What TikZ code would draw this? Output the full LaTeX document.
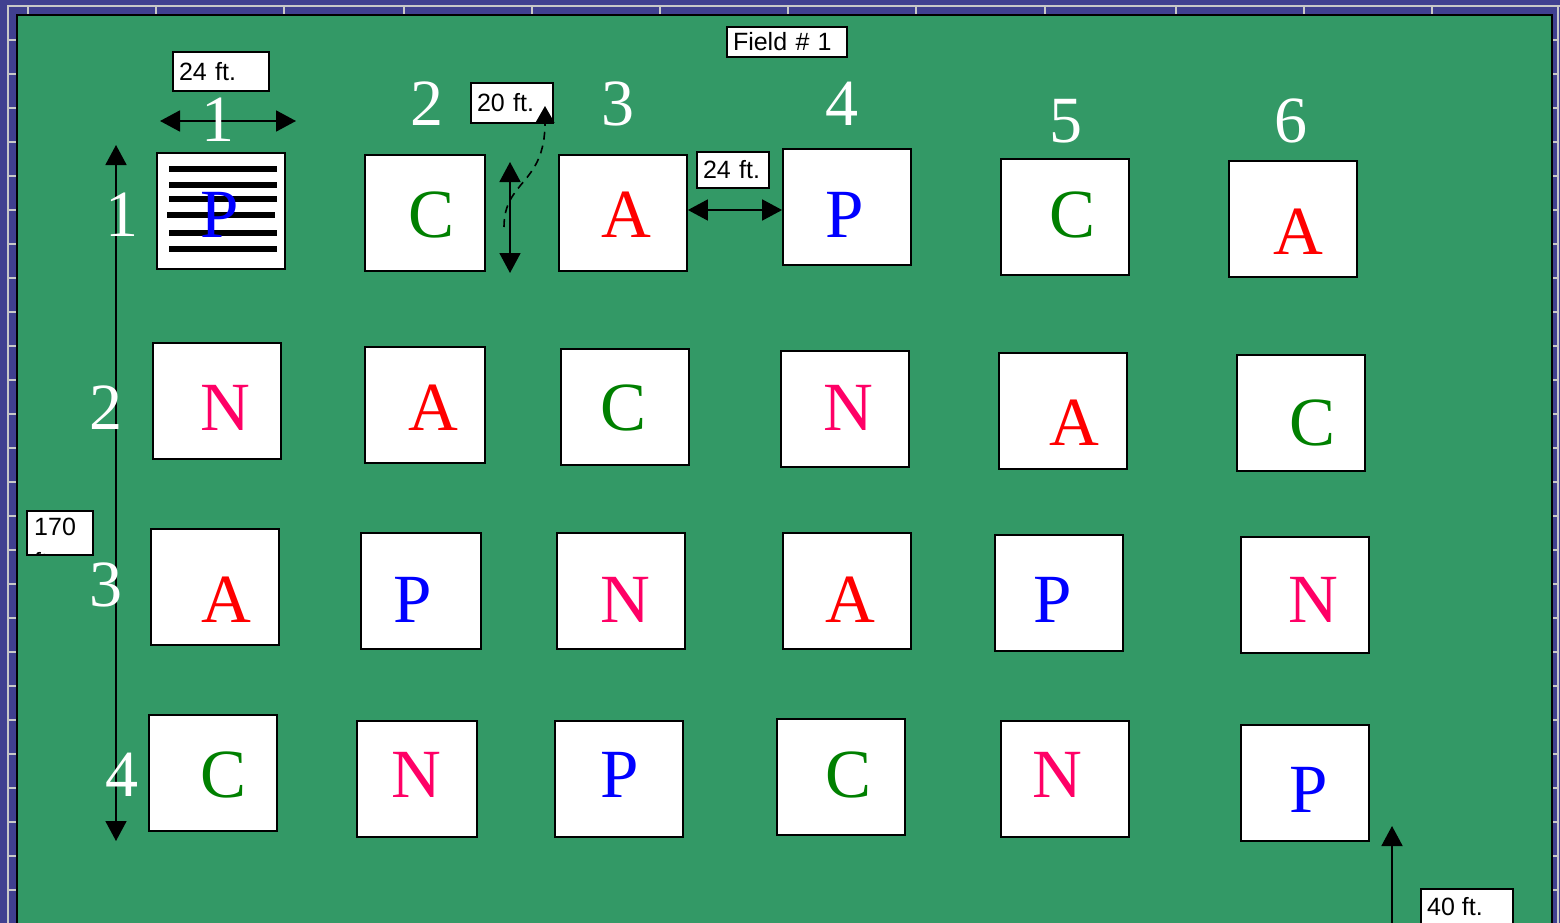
\documentclass[tikz,border=0pt]{standalone}
\usepackage{fontspec}
\setmainfont{Liberation Serif}
\newfontfamily\lsans{Liberation Sans}
\usetikzlibrary{arrows.meta}
\definecolor{bgblue}{RGB}{64,64,144}
\definecolor{fieldgreen}{RGB}{51,153,102}
\definecolor{tickgray}{RGB}{200,200,200}
\definecolor{nred}{RGB}{255,0,102}
\definecolor{cgreen}{RGB}{0,128,0}
\definecolor{pblue}{RGB}{0,0,255}
\definecolor{ared}{RGB}{255,0,0}
\newcommand\plotbox[5]{%
  \node[plotbox, minimum width={(#4-#2)*1pt}, minimum height={(#5-#3)*1pt}]
    (#1) at ({(#2+#4)/2},{(#3+#5)/2}) {};}
\newcommand\lblbox[6]{%
  \node[lblbox, minimum width={(#4-#2)*1pt}, minimum height={(#5-#3)*1pt},
    text width={(#4-#2-12)*1pt}]
    (#1) at ({(#2+#4)/2},{(#3+#5)/2}) {#6};}
\begin{document}
\begin{tikzpicture}[x=1pt,y=-1pt,
  plotbox/.style={draw=black, fill=white, line width=1.8pt, inner sep=0pt},
  letter/.style={inner sep=0pt, font=\fontsize{69}{69}\selectfont},
  num/.style={inner sep=0pt, text=white, font=\fontsize{66}{66}\selectfont},
  lblbox/.style={draw=black, fill=white, line width=1.3pt, inner xsep=6pt, inner ysep=0pt,
    align=left, font=\lsans\fontsize{25}{28}\selectfont},
  dim/.style={line width=1.8pt, {Triangle[length=20pt,width=21pt]}-{Triangle[length=20pt,width=21pt]}},
  dimone/.style={line width=1.8pt, -{Triangle[length=20pt,width=21pt]}},
  tickline/.style={draw=tickgray, line width=2pt}
]
\useasboundingbox (0,0) rectangle (1560,923);
% background frame
\fill[bgblue] (0,0) rectangle (1560,923);
\draw[tickline] (8,930) -- (8,6) -- (1560,6);
\draw[tickline] (1558,6) -- (1558,930);
\foreach \x in {28,156,284,404,532,660,788,916,1045,1176,1304,1432}
  \draw[tickline] (\x,6) -- (\x,14);
\foreach \k in {0,...,26}{
  \draw[tickline] (8,{40+34*\k}) -- (16,{40+34*\k});
  \draw[tickline] (1552,{40+34*\k}) -- (1558,{40+34*\k});
}
% field
\filldraw[fill=fieldgreen, draw=black, line width=2pt] (17,15) rectangle (1552,935);

% plots
\plotbox{b11}{157}{153}{285}{269}
\plotbox{b12}{365}{155}{485}{271}
\plotbox{b13}{559}{155}{687}{271}
\plotbox{b14}{783}{149}{911}{265}
\plotbox{b15}{1001}{159}{1129}{275}
\plotbox{b16}{1229}{161}{1357}{277}
\plotbox{b21}{153}{343}{281}{459}
\plotbox{b22}{365}{347}{485}{463}
\plotbox{b23}{561}{349}{689}{465}
\plotbox{b24}{781}{351}{909}{467}
\plotbox{b25}{999}{353}{1127}{469}
\plotbox{b26}{1237}{355}{1365}{471}
\plotbox{b31}{151}{529}{279}{645}
\plotbox{b32}{361}{533}{481}{649}
\plotbox{b33}{557}{533}{685}{649}
\plotbox{b34}{783}{533}{911}{649}
\plotbox{b35}{995}{535}{1123}{651}
\plotbox{b36}{1241}{537}{1369}{653}
\plotbox{b41}{149}{715}{277}{831}
\plotbox{b42}{357}{721}{477}{837}
\plotbox{b43}{555}{721}{683}{837}
\plotbox{b44}{777}{719}{905}{835}
\plotbox{b45}{1001}{721}{1129}{837}
\plotbox{b46}{1241}{725}{1369}{841}

% stripes in the first plot
\foreach \y/\xa/\xb in {169/169/277,185/169/277,199/169/277,215/167/275,233/169/277,249/169/277}
  \draw[line width=5.5pt] (\xa,\y) -- (\xb,\y);

% letters
\node[letter, text=pblue] (l11) at (220,215) {P};
\node[letter, text=cgreen] (l12) at (432,215) {C};
\node[letter, text=ared] (l13) at (626,215) {A};
\node[letter, text=pblue] (l14) at (845,215) {P};
\node[letter, text=cgreen] (l15) at (1072,215) {C};
\node[letter, text=ared] (l16) at (1298,232) {A};
\node[letter, text=nred] (l21) at (225,408) {N};
\node[letter, text=ared] (l22) at (433,408) {A};
\node[letter, text=cgreen] (l23) at (624,408) {C};
\node[letter, text=nred] (l24) at (848,408) {N};
\node[letter, text=ared] (l25) at (1074,423) {A};
\node[letter, text=cgreen] (l26) at (1312,423) {C};
\node[letter, text=ared] (l31) at (226,600) {A};
\node[letter, text=pblue] (l32) at (413,600) {P};
\node[letter, text=nred] (l33) at (625,600) {N};
\node[letter, text=ared] (l34) at (850,600) {A};
\node[letter, text=pblue] (l35) at (1053,600) {P};
\node[letter, text=nred] (l36) at (1313,600) {N};
\node[letter, text=cgreen] (l41) at (224,775) {C};
\node[letter, text=nred] (l42) at (416,775) {N};
\node[letter, text=pblue] (l43) at (620,775) {P};
\node[letter, text=cgreen] (l44) at (848,775) {C};
\node[letter, text=nred] (l45) at (1057,775) {N};
\node[letter, text=pblue] (l46) at (1309,790) {P};

% dimension arrows
\coordinate (h1a) at (160,121);
\coordinate (h1b) at (296,121);
\draw[dim] (h1a) -- (h1b);
\coordinate (v1a) at (116,145);
\coordinate (v1b) at (116,841);
\draw[dim] (v1a) -- (v1b);
\coordinate (v2a) at (510,162);
\coordinate (v2b) at (510,273);
\draw[dim] (v2a) -- (v2b);
\coordinate (h2a) at (b13.east |- 0,210);
\coordinate (h2b) at (b14.west |- 0,210);
\draw[dim] (h2a) -- (h2b);
\coordinate (u1a) at (1392,930);
\coordinate (u1b) at (1392,826);
\draw[dimone] (u1a) -- (u1b);

% column numbers
\node[num] (c1) at (218,120) {1};
\node[num] (c2) at (427,104) {2};
\node[num] (c3) at (618,104) {3};
\node[num] (c4) at (842,104) {4};
\node[num] (c5) at (1066,121) {5};
\node[num] (c6) at (1291,121) {6};
% row numbers
\node[num] (r1) at (122,215) {1};
\node[num] (r2) at (106,408) {2};
\node[num] (r3) at (106,585) {3};
\node[num] (r4) at (122,775) {4};

% label boxes
\lblbox{field}{727}{27}{847}{57}{Field \# 1}
\lblbox{w24a}{173}{52}{269}{91}{24 ft.}
\lblbox{w20}{471}{83}{553}{123}{20 ft.}
\lblbox{w24b}{697}{152}{769}{188}{24 ft.}
\node[lblbox, minimum width=66pt, minimum height=44pt, text width=54pt] (w170) at (60,533) {};
\begin{scope}
  \clip (28,512) rectangle (92,554);
  \node[anchor=north west, inner sep=0pt, align=left, font=\lsans\fontsize{25}{35}\selectfont] (w170t) at (34,518) {170\\ft.};
\end{scope}
\node[lblbox, minimum width=92pt, minimum height=50pt, text width=80pt] (w40) at (1467,914) {};
\node[anchor=north west, inner sep=0pt, font=\lsans\fontsize{25}{28}\selectfont] (w40t) at (1427,897) {40 ft.};

% dashed pointer to the 20 ft. label
\coordinate (dsa) at (504,227);
\coordinate (dsb) at (545,106);
\draw[line width=1.6pt, dash pattern=on 8pt off 6pt, -{Triangle[length=17pt,width=19pt]}]
  (dsa) .. controls (504,180) and (545,185) .. (dsb);
\end{tikzpicture}
\end{document}
